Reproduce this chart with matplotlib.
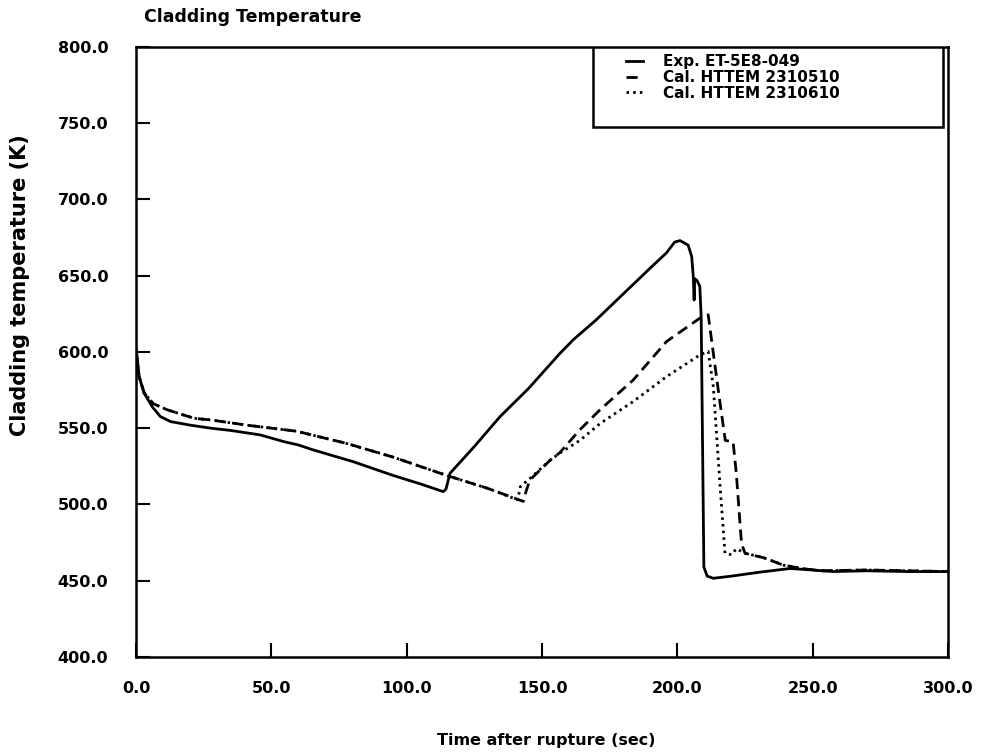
import matplotlib
matplotlib.use('Agg')
import matplotlib.pyplot as plt
from matplotlib.patches import Rectangle

# Exp. ET-5E8-049 (measured)
exp_t = [0, 0.5, 1.1, 3, 6, 9, 12.8, 20, 27.6, 35, 45.8, 55, 60, 65, 80.3, 95, 105, 113.5,
         114.5, 116, 125, 134.5, 145, 156.6, 161.5, 170, 180, 190, 196, 199, 201, 204,
         205.3, 205.9, 206.2, 206.4, 207.2, 208.3, 208.8, 209.8, 211, 213.3, 220, 230,
         241.6, 250, 257.5, 270, 285, 300]
exp_T = [603, 595, 584, 573, 564, 557.6, 554.3, 552, 550, 548.5, 545.6, 541, 539, 536, 528,
         519, 513.5, 508.4, 510, 520.4, 538, 557.6, 576, 599, 607.9, 621, 638, 655, 665,
         672, 673, 670, 662.5, 649, 634, 648, 647, 643, 623, 459, 453, 451.6, 453, 455.5,
         458, 457, 456, 456.5, 456, 456]

# Cal. HTTEM 2310510
c1_t = [0, 0.5, 1.1, 3, 6.4, 11.6, 21.4, 27.6, 40.9, 59.3, 77.8, 95, 114.8, 130, 143.1,
        144, 145.5, 153, 156.6, 164, 171.4, 183.7, 196, 205, 209, 211.4, 213.3, 215.5,
        217.7, 220.6, 221.8, 223.7, 225, 232, 239, 246, 253, 270, 285, 300]
c1_T = [600, 594, 584, 573, 566, 562, 556.5, 555.4, 552, 548, 540, 531, 519, 510.5, 502,
        508, 516, 529, 534, 549, 562, 581.6, 606.8, 618, 623, 624.3, 599, 570, 542, 541,
        520, 474.5, 468, 465, 460.3, 458, 456.5, 457, 456.5, 456]

# Cal. HTTEM 2310610
c2_t = [0, 0.5, 1.1, 3, 6.4, 11.6, 21.4, 27.6, 40.9, 59.3, 77.8, 95, 114.8, 130, 141,
        142, 145.5, 153, 156.6, 164, 171.4, 183.7, 196, 208.3, 211.4, 213.3, 215.8, 217.6,
        220, 221.8, 225, 232, 239, 246, 253, 270, 285, 300]
c2_T = [600, 594, 584, 573, 566, 562, 556.5, 555.4, 552, 548, 540, 531, 519, 510.5, 503,
        511.7, 517, 529, 533.7, 542, 553, 567.5, 583.8, 598, 600.3, 577, 511.7, 468, 467,
        471, 468, 465, 460.3, 458, 456.5, 457, 456.5, 456]

x_ticks = [0, 50, 100, 150, 200, 250, 300]
y_ticks = [400, 450, 500, 550, 600, 650, 700, 750, 800]

plt.rcParams['font.family'] = 'DejaVu Sans'
plt.rcParams['font.weight'] = 'bold'

fig = plt.figure(figsize=(9.83, 7.56), dpi=100)
ax = fig.add_axes([0.1384, 0.131, 0.826, 0.807])

ax.plot(exp_t, exp_T, color='black', lw=2.0, label='Exp. ET-5E8-049')
ax.plot(c1_t, c1_T, color='black', lw=2.0, dashes=(4, 2.2), label='Cal. HTTEM 2310510')
ax.plot(c2_t, c2_T, color='black', lw=2.0, dashes=(0.9, 1.5), label='Cal. HTTEM 2310610')

ax.set_xlim(0, 300)
ax.set_ylim(400, 800)
ax.set_xticks(x_ticks)
ax.set_yticks(y_ticks)
ax.set_xticklabels(['%.1f' % v for v in x_ticks], fontsize=11.5, fontweight='bold')
ax.set_yticklabels(['%.1f' % v for v in y_ticks], fontsize=11.5, fontweight='bold')
ax.tick_params(direction='in', length=10, width=1.5)
ax.tick_params(axis='x', pad=17)
ax.tick_params(axis='y', pad=20)
for s in ax.spines.values():
    s.set_linewidth(1.8)

# legend box is wider than its entries in the original
ax.add_patch(Rectangle((0.563, 0.869), 0.431, 0.131, transform=ax.transAxes,
                       facecolor='white', edgecolor='black', lw=1.8, zorder=4))
leg = ax.legend(loc='upper left', bbox_to_anchor=(0.6, 0.993), fontsize=11,
                handlelength=1.1, handletextpad=1.3, borderpad=0.2, labelspacing=0.05,
                frameon=False, borderaxespad=0)
leg.set_zorder(5)
for txt in leg.get_texts():
    txt.set_fontweight('bold')

fig.text(0.146, 0.977, 'Cladding Temperature', fontsize=12.5, fontweight='bold',
         ha='left', va='center')
fig.text(0.02, 0.623, 'Cladding temperature (K)', fontsize=15, fontweight='bold',
         rotation=90, ha='center', va='center')
fig.text(0.556, 0.02, 'Time after rupture (sec)', fontsize=11.5, fontweight='bold',
         ha='center', va='center')

fig.savefig('out.png', dpi=100)
